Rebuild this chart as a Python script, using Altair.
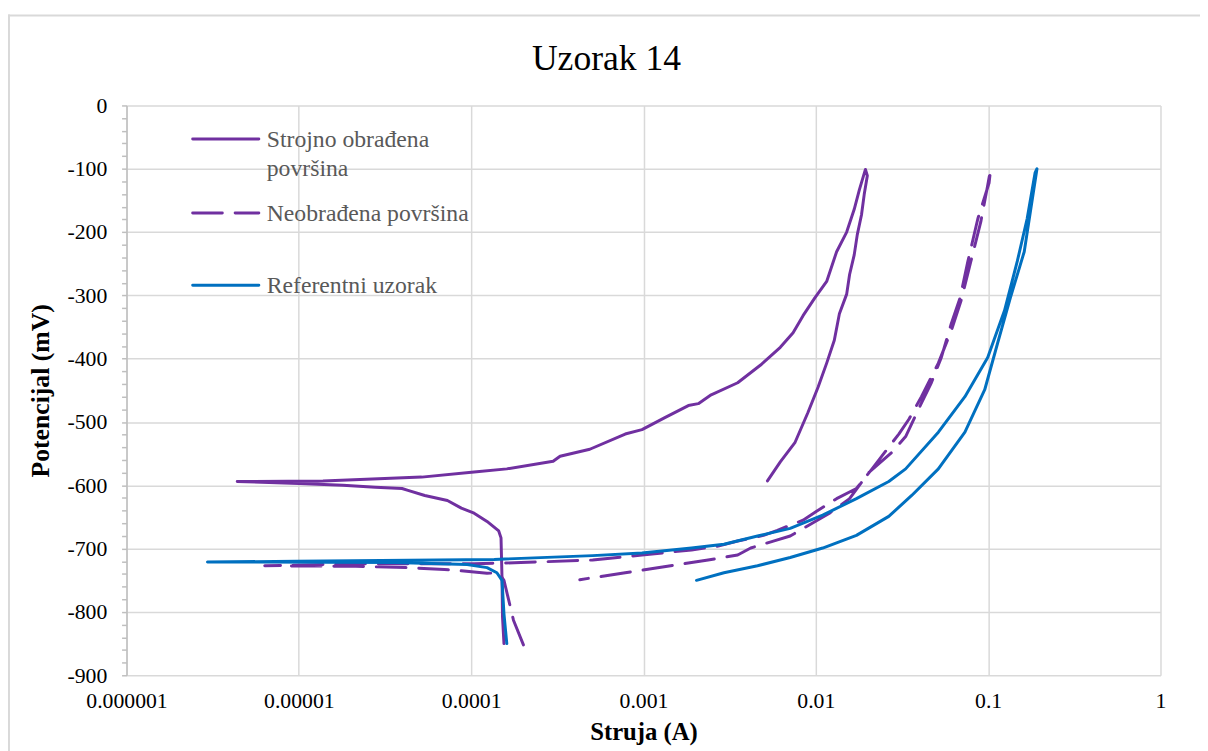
import altair as alt
import pandas as pd

# ---- data (struja in A, potencijal in mV) ----
# Strojno obrađena površina (solid purple): cathodic -> anodic -> reverse scan
strojno_x = [1.55e-4, 1.52e-4, 1.51e-4, 1.49e-4, 1.445e-4, 1.236e-4, 1.04e-4, 8.77e-5, 7.28e-5, 5.38e-5,
             4.3e-5, 3.97e-5, 2.78e-5, 1.80e-5, 1.0e-5, 4.39e-6,
             1.38e-5, 5.16e-5, 1.04e-4, 1.61e-4, 2.99e-4, 3.28e-4, 4.88e-4, 7.83e-4, 9.8e-4, 1.33e-3,
             1.82e-3, 2.08e-3, 2.47e-3, 3.52e-3, 4.78e-3, 6.22e-3, 7.38e-3, 8.43e-3, 9.87e-3, 1.156e-2,
             1.32e-2, 1.51e-2, 1.67e-2, 1.79e-2, 1.94e-2,
             1.99e-2, 1.91e-2, 1.84e-2, 1.74e-2, 1.67e-2, 1.57e-2, 1.51e-2, 1.37e-2, 1.28e-2, 1.156e-2,
             1.03e-2, 9.0e-3, 7.58e-3, 6.22e-3, 5.24e-3]
strojno_y = [-850, -808, -746, -683, -672, -657, -644, -636, -624, -616,
             -608, -605, -603, -600, -597, -594,
             -593, -587, -579, -574, -562, -554, -543, -519, -512, -493,
             -474, -471, -457, -438, -410, -382, -359, -332, -304, -278,
             -231, -200, -164, -133, -101,
             -111, -140, -173, -204, -236, -267, -298, -329, -371, -407,
             -445, -485, -532, -563, -593]

# Neobrađena površina (dashed purple)
neobr_x = [2.01e-4, 1.76e-4, 1.65e-4, 1.55e-4, 1.445e-4, 1.236e-4, 8.77e-5, 7.0e-5, 4.3e-5, 2.14e-5, 6.34e-6,
           2.14e-5, 1.04e-4, 1.94e-4, 5.07e-4, 9.8e-4, 1.90e-3, 2.71e-3, 3.52e-3, 4.97e-3, 5.98e-3,
           8.43e-3, 1.01e-2, 1.32e-2, 1.72e-2, 2.12e-2, 3.03e-2, 3.46e-2, 4.10e-2, 5.14e-2, 6.10e-2,
           6.95e-2, 7.94e-2, 9.06e-2, 9.94e-2, 0.1033,
           0.1013, 8.71e-2, 7.63e-2, 6.87e-2, 6.10e-2, 5.35e-2, 4.68e-2, 3.94e-2, 3.32e-2, 2.76e-2,
           2.04e-2, 1.57e-2, 1.20e-2, 7.1e-3, 5.67e-3, 4.19e-3, 3.52e-3, 2.37e-3, 1.60e-3, 7.83e-4, 4.27e-4]
neobr_y = [-852, -813, -781, -750, -738, -739, -735, -733, -730, -728, -727,
           -724, -724, -722, -718, -710, -702, -696, -688, -679, -671,
           -655, -641, -621, -605, -574, -519, -496, -460, -407, -356,
           -309, -246, -184, -126, -101,
           -122, -179, -246, -304, -345, -398, -438, -480, -523, -548,
           -579, -621, -644, -680, -688, -699, -710, -718, -725, -738, -749]

# Referentni uzorak (solid blue)
ref_x = [1.61e-4, 1.55e-4, 1.51e-4, 1.41e-4, 1.236e-4, 9.48e-5, 3.62e-5, 2.95e-6,
         9.67e-6, 1.36e-4, 5.07e-4, 9.8e-4, 1.90e-3, 2.93e-3, 4.59e-3, 7.1e-3, 1.096e-2, 1.72e-2,
         2.65e-2, 3.32e-2, 5.14e-2, 7.33e-2, 9.94e-2, 0.1244, 0.1476, 0.1683, 0.1873, 0.192,
         0.1619, 0.1345, 0.1133, 9.55e-2, 7.33e-2, 5.14e-2, 3.60e-2, 2.65e-2, 1.72e-2, 1.096e-2,
         7.1e-3, 4.59e-3, 2.93e-3, 2.03e-3]
ref_y = [-850, -803, -750, -738, -730, -725, -722, -721,
         -720, -717, -711, -707, -699, -693, -680, -668, -647, -621,
         -594, -574, -516, -460, -398, -324, -246, -179, -106, -100,
         -231, -304, -376, -449, -516, -574, -616, -649, -679, -699,
         -714, -727, -738, -750]

series_names = ["Strojno obrađena površina", "Neobrađena površina", "Referentni uzorak"]
legend_lines = [["Strojno obrađena", "površina"], ["Neobrađena površina"], ["Referentni uzorak"]]
x_ticks = [0.000001, 0.00001, 0.0001, 0.001, 0.01, 0.1, 1]
y_ticks = list(range(-900, 1, 20))

PURPLE = "#7030A0"
BLUE = "#0070C0"
FONT = "Liberation Serif"


def frame(xs, ys):
    return pd.DataFrame({"struja": xs, "potencijal": ys, "i": list(range(len(xs)))})


X = alt.X("struja:Q",
          scale=alt.Scale(type="log", domain=[1e-6, 1]),
          axis=alt.Axis(values=x_ticks, labelExpr="format(datum.value, '.6~f')",
                        title="Struja (A)", ticks=False, domain=False,
                        grid=True, gridColor="#d9d9d9", gridWidth=1.5,
                        labelFont=FONT, labelFontSize=22, labelColor="#000000", labelPadding=16,
                        labelOverlap=False, labelFlush=False,
                        titleFont=FONT, titleFontSize=25, titleFontWeight="bold",
                        titleColor="#000000", titlePadding=8))
Y = alt.Y("potencijal:Q",
          scale=alt.Scale(domain=[-900, 0], nice=False, zero=False),
          axis=alt.Axis(values=y_ticks,
                        labelExpr="datum.value % 100 == 0 ? '' + datum.value : ''",
                        title="Potencijal (mV)", grid=True, gridColor="#d9d9d9", gridWidth=1.5,
                        gridOpacity={"condition": {"test": "datum.value % 100 == 0", "value": 1}, "value": 0},
                        domain=True, domainColor="#bfbfbf", domainWidth=1.5,
                        ticks=True, tickColor="#bfbfbf", tickSize=5, tickWidth=1.5,
                        labelFont=FONT, labelFontSize=22, labelColor="#000000", labelPadding=15,
                        labelOverlap=False, labelFlush=False,
                        titleFont=FONT, titleFontSize=26, titleFontWeight="bold",
                        titleColor="#000000", titlePadding=14))
O = alt.Order("i:Q")

line_props = dict(strokeWidth=3, strokeCap="round", strokeJoin="round", clip=True)

strojno = alt.Chart(frame(strojno_x, strojno_y)).mark_line(color=PURPLE, **line_props).encode(x=X, y=Y, order=O)
neobr = alt.Chart(frame(neobr_x, neobr_y)).mark_line(color=PURPLE, strokeDash=[30, 13], **line_props).encode(x=X, y=Y, order=O)
ref = alt.Chart(frame(ref_x, ref_y)).mark_line(color=BLUE, **line_props).encode(x=X, y=Y, order=O)

one = alt.Data(values=[{"k": 1}])

# outer chart-area border: only its top and left sides fall inside the picture
border_top = alt.Chart(one).mark_rect(color="#d9d9d9").encode(
    x=alt.value(-120), x2=alt.value(1110), y=alt.value(-92), y2=alt.value(-90))
border_left = alt.Chart(one).mark_rect(color="#d9d9d9").encode(
    x=alt.value(-120), x2=alt.value(-118), y=alt.value(-92), y2=alt.value(660))

title = alt.Chart(one).mark_text(text="Uzorak 14", font=FONT, fontSize=36, color="#000000",
                                 align="center", baseline="middle").encode(
    x=alt.value(486), y=alt.value(-47))

# manual legend
leg_colors = [PURPLE, PURPLE, BLUE]
leg_dash = [[1, 0], [30, 13], [1, 0]]
leg_rows = [34, 109, 182]
legend_layers = []
for name, lines, col, dash, ry in zip(series_names, legend_lines, leg_colors, leg_dash, leg_rows):
    legend_layers.append(
        alt.Chart(one).mark_rule(color=col, strokeWidth=3, strokeCap="round", strokeDash=dash).encode(
            x=alt.value(67), x2=alt.value(134), y=alt.value(ry), y2=alt.value(ry)))
    legend_layers.append(
        alt.Chart(one).mark_text(text=lines if len(lines) > 1 else lines[0], font=FONT, fontSize=24,
                                 color="#595959", align="left", baseline="middle", lineHeight=29).encode(
            x=alt.value(142), y=alt.value(ry + 1)))

chart = alt.layer(border_top, border_left, strojno, neobr, ref, title, *legend_layers).properties(
    width=1047, height=577,
    autosize=alt.AutoSizeParams(type="none"),
    padding={"left": 120, "top": 94, "right": 40, "bottom": 72},
    background="#ffffff",
).configure(font=FONT).configure_view(stroke="transparent")

chart.save("out.html", embed_options={"renderer": "svg", "actions": False})
